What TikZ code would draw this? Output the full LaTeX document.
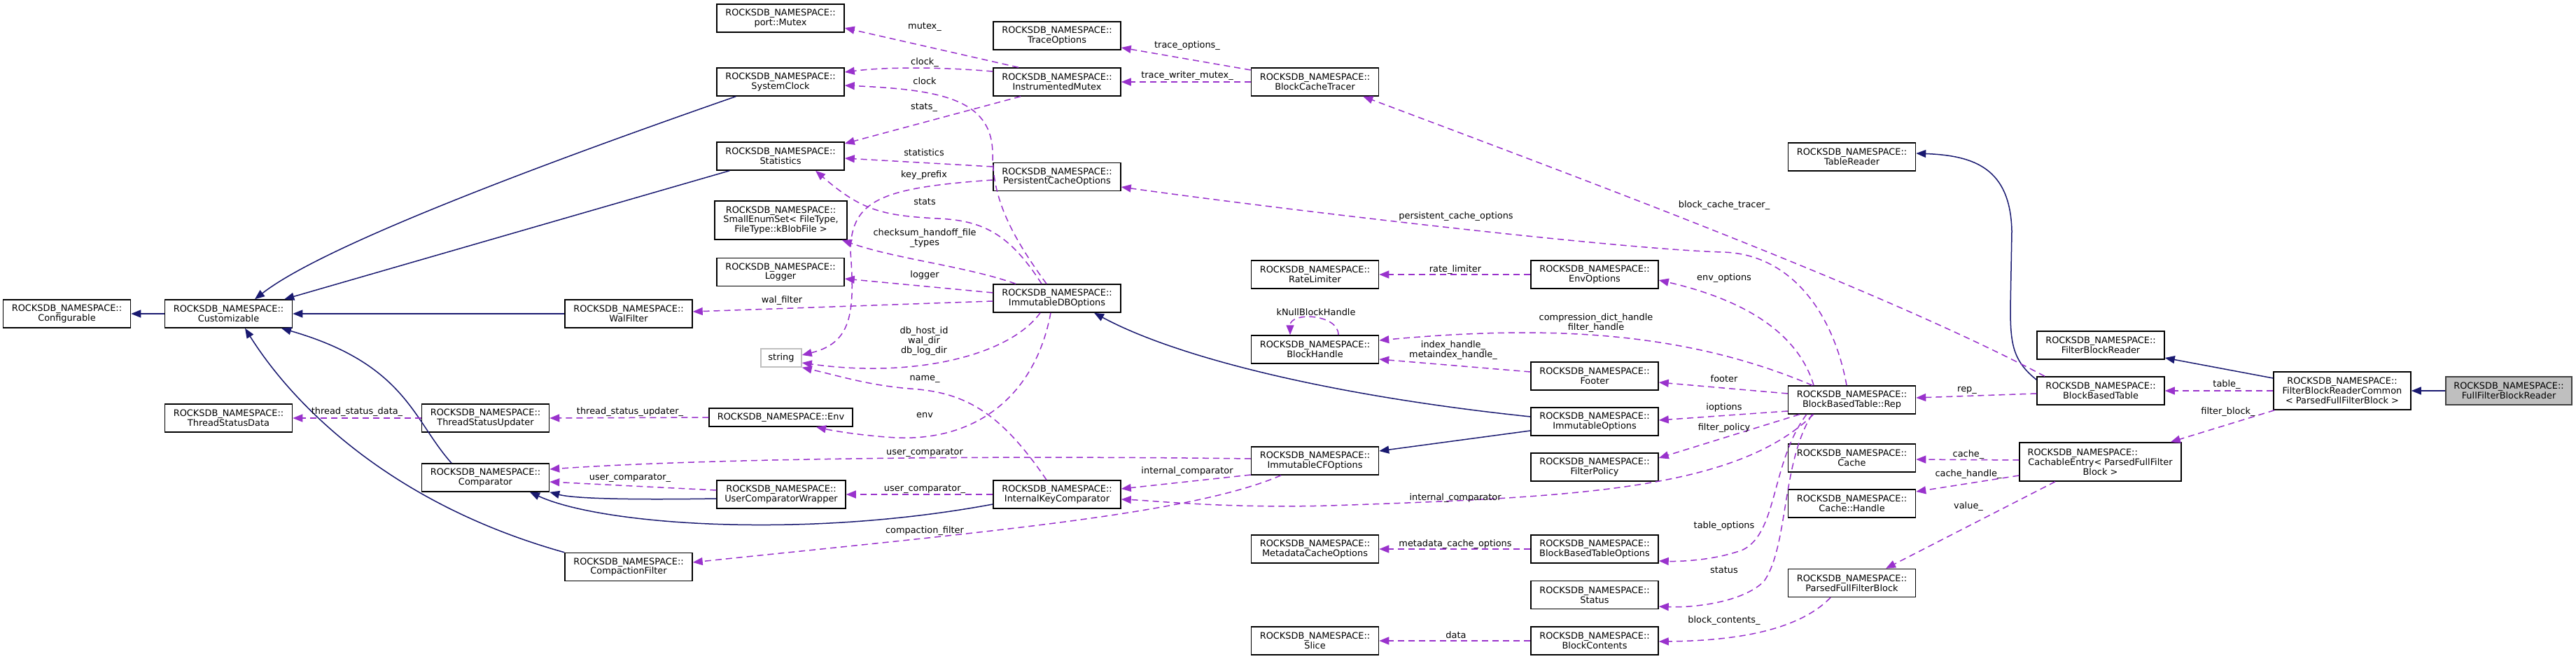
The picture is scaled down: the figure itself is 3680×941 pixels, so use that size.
\documentclass[tikz,border=0pt]{standalone}
\usepackage{fontspec}
\setmainfont{DejaVu Sans}
\usetikzlibrary{arrows.meta}
\definecolor{inhblue}{RGB}{25,25,112}
\definecolor{usepurple}{RGB}{153,50,204}
\definecolor{boxgray}{RGB}{191,191,191}
\definecolor{darkframe}{RGB}{64,64,64}
\begin{document}
\begin{tikzpicture}[x=1pt, y=-1pt, align=center, font=\fontsize{12.9}{13.8}\selectfont]
	% Node styles
	\tikzstyle{cls} = [rectangle, draw, line width=1.5pt, minimum width=182pt, minimum height=40pt, inner sep=0pt]
	\tikzstyle{inh} = [inhblue, line width=1.5pt, -{Triangle[length=14pt,width=11pt]}]
	\tikzstyle{use} = [usepurple, line width=1.5pt, dash pattern=on 9pt off 6pt, -{Triangle[length=14pt,width=11pt]}]
	\tikzstyle{lbl} = [inner sep=0pt]

	\useasboundingbox (0,0) rectangle (3680,941);

	% Nodes
	\node[cls] (configurable) at (95.5,448) {ROCKSDB\_NAMESPACE::\\Configurable};
	\node[cls] (customizable) at (326.5,448) {ROCKSDB\_NAMESPACE::\\Customizable};
	\node[cls] (walFilter) at (898,448) {ROCKSDB\_NAMESPACE::\\WalFilter};
	\node[cls] (threadStatusData) at (326.5,597) {ROCKSDB\_NAMESPACE::\\ThreadStatusData};
	\node[cls] (threadStatusUpdater) at (693.5,597) {ROCKSDB\_NAMESPACE::\\ThreadStatusUpdater};
	\node[cls] (comparator) at (693.5,682) {ROCKSDB\_NAMESPACE::\\Comparator};
	\node[cls] (compactionFilter) at (898,809.5) {ROCKSDB\_NAMESPACE::\\CompactionFilter};
	\node[cls] (portMutex) at (1115,26) {ROCKSDB\_NAMESPACE::\\port::Mutex};
	\node[cls] (systemClock) at (1115,117) {ROCKSDB\_NAMESPACE::\\SystemClock};
	\node[cls] (statistics) at (1115,223) {ROCKSDB\_NAMESPACE::\\Statistics};
	\node[cls, minimum width=189pt, minimum height=55pt] (smallEnumSet) at (1115.5,314.5) {ROCKSDB\_NAMESPACE::\\SmallEnumSet< FileType,\\FileType::kBlobFile >};
	\node[cls] (logger) at (1115,388.5) {ROCKSDB\_NAMESPACE::\\Logger};
	\node[cls, draw=boxgray, minimum width=58pt, minimum height=26pt] (stdString) at (1116,511) {string};
	\node[cls, minimum width=205pt, minimum height=26pt] (env) at (1115.5,596) {ROCKSDB\_NAMESPACE::Env};
	\node[cls, minimum width=184pt] (userCmpWrapper) at (1116,706) {ROCKSDB\_NAMESPACE::\\UserComparatorWrapper};
	\node[cls] (traceOptions) at (1510,51) {ROCKSDB\_NAMESPACE::\\TraceOptions};
	\node[cls] (instrumentedMutex) at (1510,117) {ROCKSDB\_NAMESPACE::\\InstrumentedMutex};
	\node[cls] (persistentCacheOptions) at (1510,252.5) {ROCKSDB\_NAMESPACE::\\PersistentCacheOptions};
	\node[cls] (immutableDBOptions) at (1510,426) {ROCKSDB\_NAMESPACE::\\ImmutableDBOptions};
	\node[cls] (internalKeyCmp) at (1510,706) {ROCKSDB\_NAMESPACE::\\InternalKeyComparator};
	\node[cls] (blockCacheTracer) at (1878.5,117) {ROCKSDB\_NAMESPACE::\\BlockCacheTracer};
	\node[cls] (rateLimiter) at (1878.5,392) {ROCKSDB\_NAMESPACE::\\RateLimiter};
	\node[cls] (blockHandle) at (1878.5,499) {ROCKSDB\_NAMESPACE::\\BlockHandle};
	\node[cls] (immutableCFOptions) at (1878.5,658) {ROCKSDB\_NAMESPACE::\\ImmutableCFOptions};
	\node[cls] (metadataCacheOptions) at (1878.5,784) {ROCKSDB\_NAMESPACE::\\MetadataCacheOptions};
	\node[cls] (slice) at (1878.5,915) {ROCKSDB\_NAMESPACE::\\Slice};
	\node[cls] (envOptions) at (2278,392) {ROCKSDB\_NAMESPACE::\\EnvOptions};
	\node[cls] (footer) at (2278,537) {ROCKSDB\_NAMESPACE::\\Footer};
	\node[cls] (immutableOptions) at (2278,602) {ROCKSDB\_NAMESPACE::\\ImmutableOptions};
	\node[cls] (filterPolicy) at (2278,667) {ROCKSDB\_NAMESPACE::\\FilterPolicy};
	\node[cls] (tableOptions) at (2278,784) {ROCKSDB\_NAMESPACE::\\BlockBasedTableOptions};
	\node[cls] (status) at (2278,849.5) {ROCKSDB\_NAMESPACE::\\Status};
	\node[cls] (blockContents) at (2278,915) {ROCKSDB\_NAMESPACE::\\BlockContents};
	\node[cls] (tableReader) at (2645.5,224) {ROCKSDB\_NAMESPACE::\\TableReader};
	\node[cls] (tableRep) at (2645.5,571) {ROCKSDB\_NAMESPACE::\\BlockBasedTable::Rep};
	\node[cls] (cache) at (2645.5,654) {ROCKSDB\_NAMESPACE::\\Cache};
	\node[cls] (cacheHandle) at (2645.5,719) {ROCKSDB\_NAMESPACE::\\Cache::Handle};
	\node[cls] (parsedFilterBlock) at (2645.5,832.5) {ROCKSDB\_NAMESPACE::\\ParsedFullFilterBlock};
	\node[cls] (filterBlockReader) at (3001,493) {ROCKSDB\_NAMESPACE::\\FilterBlockReader};
	\node[cls] (blockBasedTable) at (3001,558) {ROCKSDB\_NAMESPACE::\\BlockBasedTable};
	\node[cls, minimum width=231pt, minimum height=55pt] (cachableEntry) at (3000.5,659.5) {\makebox[208pt][l]{ROCKSDB\_NAMESPACE::}\\CachableEntry< ParsedFullFilter\\Block >};
	\node[cls, minimum width=196pt, minimum height=54pt] (readerCommon) at (3346,558) {ROCKSDB\_NAMESPACE::\\FilterBlockReaderCommon\\< ParsedFullFilterBlock >};
	\node[cls, draw=darkframe, fill=boxgray, minimum width=180pt] (fullFilterReader) at (3584,558) {ROCKSDB\_NAMESPACE::\\FullFilterBlockReader};

	% Inheritance
	\draw[inh] (customizable.west) -- (configurable.east);
	\draw[inh] ([xshift=28pt]systemClock.south west) .. controls (700,260) and (450,360) .. ([xshift=37.5pt]customizable.north);
	\draw[inh] ([xshift=19pt]statistics.south west) -- ([xshift=-12pt]customizable.north east);
	\draw[inh] (walFilter.west) -- (customizable.east);
	\draw[inh] ([xshift=-48.5pt]comparator.north) .. controls (590,600) and (580,520) .. ([xshift=75.5pt]customizable.south);
	\draw[inh] (compactionFilter.north west) .. controls (560,720) and (420,580) .. ([xshift=23.5pt]customizable.south);
	\draw[inh] ([yshift=-6pt]userCmpWrapper.west) .. controls (900,714) and (820,712) .. (comparator.south east);
	\draw[inh] ([yshift=-14pt]internalKeyCmp.west) .. controls (1150,770) and (860,750) .. ([xshift=63.5pt]comparator.south);
	\draw[inh] ([yshift=7pt]immutableOptions.west) .. controls (1900,565) and (1680,510) .. ([xshift=53pt]immutableDBOptions.south);
	\draw[inh] ([yshift=-13pt]immutableOptions.west) -- ([yshift=14pt]immutableCFOptions.east);
	\draw[inh] ([yshift=-5pt]blockBasedTable.north west) .. controls (2875,515) and (2872,490) .. (2872,440) -- (2874,330) .. controls (2872,240) and (2820,222) .. ([yshift=5pt]tableReader.east);
	\draw[inh] ([yshift=18pt]readerCommon.west) -- ([yshift=-18pt]filterBlockReader.east);
	\draw[inh] (fullFilterReader.west) -- (readerCommon.east);

	% Members
	\draw[use] ([xshift=-55pt]instrumentedMutex.north) -- ([yshift=-14pt]portMutex.east);
	\draw[use] ([yshift=17pt]blockCacheTracer.west) -- ([yshift=-17pt]traceOptions.east);
	\draw[use] ([yshift=15pt]instrumentedMutex.west) .. controls (1350,96) and (1270,95) .. ([yshift=14pt]systemClock.east);
	\draw[use] (blockCacheTracer.west) -- (instrumentedMutex.east);
	\draw[use] ([xshift=-15pt]immutableDBOptions.north) .. controls (1440,330) and (1418,280) .. (1418,220) .. controls (1418,140) and (1340,128) .. ([yshift=-5pt]systemClock.east);
	\draw[use] ([xshift=-52pt]instrumentedMutex.south) -- ([yshift=18pt]statistics.east);
	\draw[use] ([yshift=14.5pt]persistentCacheOptions.west) -- ([yshift=-3pt]statistics.east);
	\draw[use] ([xshift=-22pt]immutableDBOptions.north) .. controls (1440,330) and (1400,315) .. (1340,312) .. controls (1260,308) and (1230,300) .. ([xshift=50pt]statistics.south);
	\draw[use] ([yshift=-4.5pt]persistentCacheOptions.west) .. controls (1260,268) and (1215,285) .. (1215,360) .. controls (1222,450) and (1215,490) .. ([yshift=4pt]stdString.east);
	\draw[use] ([xshift=-59pt]immutableDBOptions.north) .. controls (1380,380) and (1280,370) .. ([xshift=-8pt]smallEnumSet.south east);
	\draw[use] ([yshift=8pt]immutableDBOptions.west) -- ([yshift=-9.5pt]logger.east);
	\draw[use] ([yshift=-4pt]immutableDBOptions.west) -- ([yshift=3pt]walFilter.east);
	\draw[use] ([xshift=-24pt]immutableDBOptions.south) .. controls (1440,510) and (1300,540) .. ([yshift=-7pt]stdString.east);
	\draw[use] ([xshift=-15pt]internalKeyCmp.north) .. controls (1430,590) and (1380,560) .. (1300,555) .. controls (1240,550) and (1200,537) .. (stdString.south east);
	\draw[use] ([xshift=-9pt]immutableDBOptions.south) .. controls (1480,560) and (1400,630) .. (1280,625) .. controls (1230,622) and (1190,615) .. ([xshift=50.5pt]env.south);
	\draw[use] (threadStatusUpdater.west) -- (threadStatusData.east);
	\draw[use] (env.west) -- (threadStatusUpdater.east);
	\draw[use] ([yshift=3pt]immutableCFOptions.west) .. controls (1400,650) and (1000,655) .. ([yshift=12pt]comparator.east);
	\draw[use] ([yshift=6pt]userCmpWrapper.west) -- ([yshift=-6pt]comparator.east);
	\draw[use] (internalKeyCmp.west) -- (userCmpWrapper.east);
	\draw[use] ([yshift=-20pt]immutableCFOptions.west) -- ([yshift=8pt]internalKeyCmp.east);
	\draw[use] ([xshift=-55pt]tableRep.south) .. controls (2480,700) and (2250,710) .. (1900,722) .. controls (1750,726) and (1650,715) .. ([yshift=-7pt]internalKeyCmp.east);
	\draw[use] ([xshift=-48.5pt]immutableCFOptions.south) .. controls (1700,735) and (1400,760) .. ([yshift=6.5pt]compactionFilter.east);
	\draw[use] (envOptions.west) -- (rateLimiter.east);
	\draw[use] ([xshift=-54.5pt]tableRep.north) .. controls (2570,480) and (2500,430) .. ([yshift=-8pt]envOptions.east);
	\draw[use] ([xshift=-7.5pt]tableRep.north) .. controls (2620,450) and (2560,362) .. (2460,360) .. controls (2300,355) and (1800,295) .. ([yshift=-14.5pt]persistentCacheOptions.east);
	\draw[use] ([xshift=-80pt]blockBasedTable.north) .. controls (2700,420) and (2300,270) .. ([xshift=-23pt]blockCacheTracer.south east);
	\draw[use] ([xshift=33.5pt]blockHandle.north) .. controls (1912,448) and (1843,445) .. ([xshift=-35.5pt]blockHandle.north);
	\draw[use] ([xshift=-56.5pt]tableRep.north) .. controls (2400,470) and (2200,465) .. ([yshift=13pt]blockHandle.east);
	\draw[use] ([yshift=6pt]footer.west) -- ([yshift=-14pt]blockHandle.east);
	\draw[use] ([yshift=9pt]tableRep.west) -- ([yshift=-9pt]footer.east);
	\draw[use] ([yshift=-16pt]tableRep.west) -- ([yshift=2pt]immutableOptions.east);
	\draw[use] ([xshift=17pt]tableRep.south west) -- ([yshift=13pt]filterPolicy.east);
	\draw[use] ([xshift=27pt]tableRep.south west) .. controls (2530,660) and (2540,760) .. (2490,785) .. controls (2450,800) and (2400,802) .. ([yshift=-17pt]tableOptions.east);
	\draw[use] ([xshift=35pt]tableRep.south west) .. controls (2545,660) and (2555,780) .. (2520,830) .. controls (2490,860) and (2420,868) .. ([yshift=-16.5pt]status.east);
	\draw[use] (tableOptions.west) -- (metadataCacheOptions.east);
	\draw[use] (blockContents.west) -- (slice.east);
	\draw[use] ([xshift=-30.5pt]parsedFilterBlock.south) .. controls (2570,900) and (2480,915) .. ([yshift=-1pt]blockContents.east);
	\draw[use] ([yshift=-4pt]blockBasedTable.west) -- ([yshift=3pt]tableRep.east);
	\draw[use] ([yshift=2.5pt]cachableEntry.west) -- ([yshift=-2pt]cache.east);
	\draw[use] ([yshift=-19.5pt]cachableEntry.west) -- ([yshift=17pt]cacheHandle.east);
	\draw[use] ([xshift=-64.5pt]cachableEntry.south) -- ([xshift=48.5pt]parsedFilterBlock.north);
	\draw[use] (readerCommon.west) -- (blockBasedTable.east);
	\draw[use] ([xshift=2pt]readerCommon.south west) -- ([xshift=-16pt]cachableEntry.north east);

	% Labels
	\node[lbl] (lMutex) at (1321,38) {mutex\_};
	\node[lbl] (lTraceOptions) at (1696,65) {trace\_options\_};
	\node[lbl] (lClockA) at (1321,89) {clock\_};
	\node[lbl] (lTraceWriter) at (1696,108) {trace\_writer\_mutex\_};
	\node[lbl] (lClockB) at (1321,116) {clock};
	\node[lbl] (lStatsA) at (1320,153) {stats\_};
	\node[lbl] (lStatistics) at (1320,218) {statistics};
	\node[lbl] (lKeyPrefix) at (1320,250) {key\_prefix};
	\node[lbl] (lStatsB) at (1321,288) {stats};
	\node[lbl] (lChecksum) at (1321,340) {checksum\_handoff\_file\\\_types};
	\node[lbl] (lLogger) at (1321,393) {logger};
	\node[lbl] (lWalFilter) at (1117,429) {wal\_filter};
	\node[lbl] (lDirs) at (1320,487) {db\_host\_id\\wal\_dir\\db\_log\_dir};
	\node[lbl] (lName) at (1321,541) {name\_};
	\node[lbl] (lEnv) at (1321,593) {env};
	\node[lbl] (lThreadData) at (510,588) {thread\_status\_data\_};
	\node[lbl] (lThreadUpdater) at (900,588) {thread\_status\_updater\_};
	\node[lbl] (lUserCmpA) at (1321,646) {user\_comparator};
	\node[lbl] (lInternalCmpA) at (1696,673) {internal\_comparator};
	\node[lbl] (lUserCmpB) at (900,682) {user\_comparator\_};
	\node[lbl] (lUserCmpC) at (1321,698) {user\_comparator\_};
	\node[lbl] (lCompaction) at (1321,758) {compaction\_filter};
	\node[lbl] (lInternalCmpB) at (2079,711) {internal\_comparator};
	\node[lbl] (lRateLimiter) at (2079,385) {rate\_limiter};
	\node[lbl] (lEnvOptions) at (2463,397) {env\_options};
	\node[lbl] (lPersistent) at (2080,309) {persistent\_cache\_options};
	\node[lbl] (lTracer) at (2463,293) {block\_cache\_tracer\_};
	\node[lbl] (lNullHandle) at (1880,446) {kNullBlockHandle};
	\node[lbl] (lDictHandle) at (2280,461) {compression\_dict\_handle\\filter\_handle};
	\node[lbl] (lIndexHandle) at (2076,500) {index\_handle\_\\metaindex\_handle\_};
	\node[lbl] (lFooter) at (2463,541) {footer};
	\node[lbl] (lIoptions) at (2463,582) {ioptions};
	\node[lbl] (lFilterPolicy) at (2463,611) {filter\_policy};
	\node[lbl] (lTableOptions) at (2463,751) {table\_options};
	\node[lbl] (lMetadata) at (2079,777) {metadata\_cache\_options};
	\node[lbl] (lStatus) at (2463,814) {status};
	\node[lbl] (lBlockContents) at (2463,886) {block\_contents\_};
	\node[lbl] (lData) at (2080,907) {data};
	\node[lbl] (lRep) at (2810,557) {rep\_};
	\node[lbl] (lCache) at (2812,649) {cache\_};
	\node[lbl] (lCacheHandle) at (2812,677) {cache\_handle\_};
	\node[lbl] (lValue) at (2812,723) {value\_};
	\node[lbl] (lTable) at (3181,549) {table\_};
	\node[lbl] (lFilterBlock) at (3183,588) {filter\_block\_};
\end{tikzpicture}
\end{document}
